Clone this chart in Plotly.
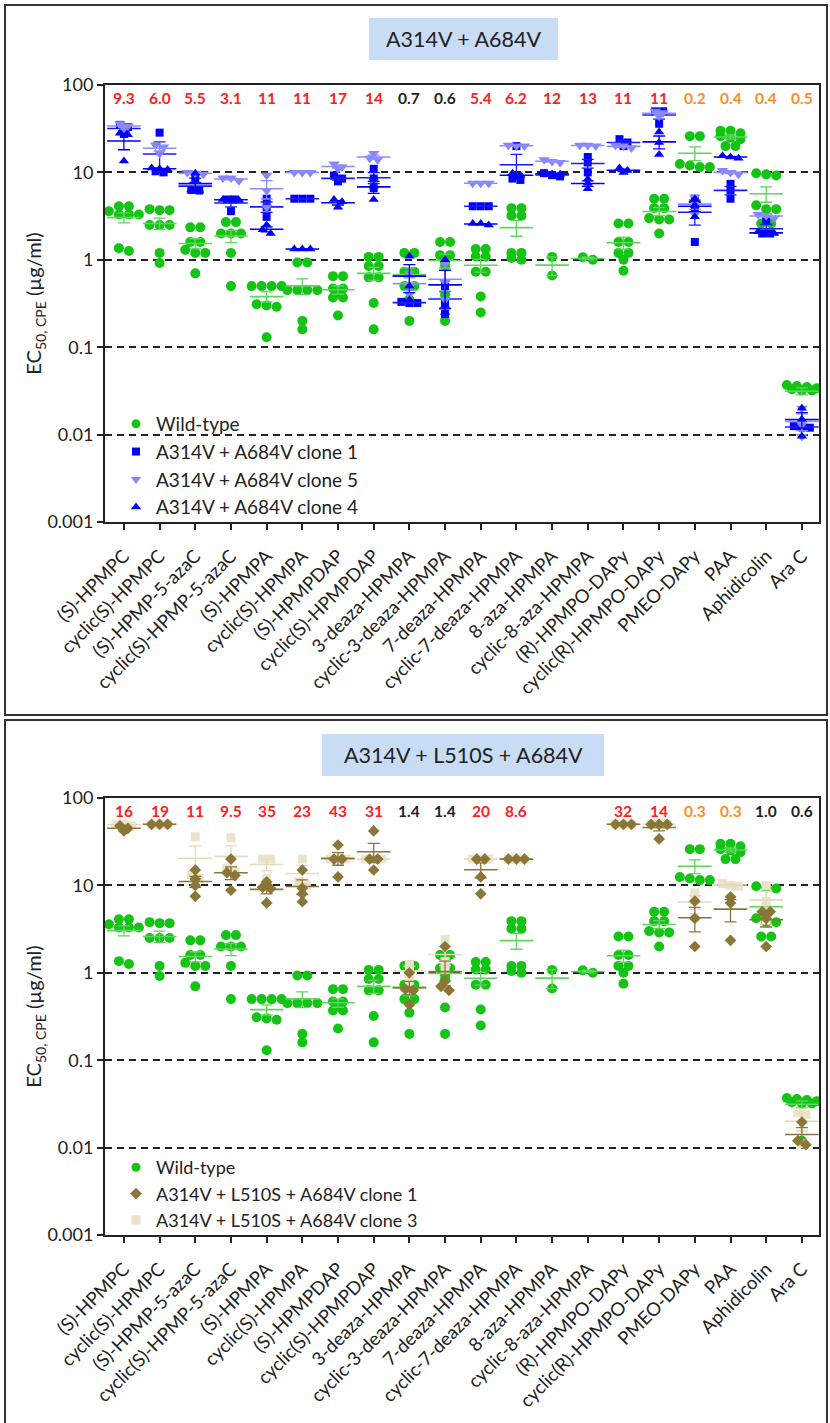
import numpy as np
import plotly.graph_objects as go

# ---------------- data ----------------
compounds = ["(S)-HPMPC", "cyclic(S)-HPMPC", "(S)-HPMP-5-azaC", "cyclic(S)-HPMP-5-azaC",
             "(S)-HPMPA", "cyclic(S)-HPMPA", "(S)-HPMPDAP", "cyclic(S)-HPMPDAP",
             "3-deaza-HPMPA", "cyclic-3-deaza-HPMPA", "7-deaza-HPMPA", "cyclic-7-deaza-HPMPA",
             "8-aza-HPMPA", "cyclic-8-aza-HPMPA", "(R)-HPMPO-DAPy", "cyclic(R)-HPMPO-DAPy",
             "PMEO-DAPy", "PAA", "Aphidicolin", "Ara C"]

wild_type = [
    [4.1, 4.1, 3.6, 3.3, 3.3, 3.3, 1.26, 1.36],
    [3.8, 3.7, 3.7, 2.5, 2.5, 2.5, 1.2, 0.92],
    [2.35, 2.35, 1.6, 1.6, 1.3, 1.2, 1.2, 0.7],
    [2.7, 2.7, 2.0, 2.0, 2.0, 1.2, 0.5],
    [0.5, 0.5, 0.5, 0.5, 0.3, 0.29, 0.31, 0.13],
    [0.93, 0.93, 0.45, 0.45, 0.45, 0.45, 0.16, 0.2],
    [0.65, 0.65, 0.47, 0.47, 0.42, 0.37, 0.37, 0.23],
    [1.08, 1.08, 0.85, 0.85, 0.63, 0.63, 0.32, 0.16],
    [1.2, 1.2, 0.73, 0.73, 0.5, 0.5, 0.35, 0.2],
    [1.6, 1.6, 1.13, 1.13, 0.95, 0.85, 0.4, 0.2],
    [1.33, 1.33, 1.09, 1.09, 0.73, 0.73, 0.38, 0.25],
    [3.9, 3.9, 3.2, 3.2, 1.2, 1.2, 1.05, 1.0],
    [1.08, 0.66],
    [1.0, 1.07],
    [2.6, 2.6, 1.6, 1.6, 1.2, 1.2, 1.0, 0.75],
    [5.0, 5.0, 3.9, 3.9, 3.0, 2.9, 2.9, 2.0],
    [26, 26, 12.5, 12, 11.5, 11.5],
    [30, 30, 28, 26, 25, 24, 20, 20],
    [9.8, 9.5, 9.2, 4.2, 3.8, 3.8, 2.6, 2.6],
    [0.037, 0.036, 0.035, 0.034, 0.033, 0.032, 0.032, 0.012],
]

dm_clone1 = [[35, 33, 27.5], [28.5, 10.3, 10], [8.4, 6.3, 6.2], [4.9, 4.9, 3.6], [5.0, 3.1, 4.0],
             [5, 5, 5], [7.9, 9.2, 8.5], [11, 6.6, 8.5], [0.32, 0.32, 0.33], [0.5, 0.24, 0.33],
             [4.1, 4.1, 4.1], [20, 8.2, 8.5], [9.0, 9.8, 9.3], [15, 10, 13], [24, 20, 22],
             [50, 50, 36], [3.9, 1.6, 5.0], [7.4, 5.0, 6.3], [2.0, 2.0, 2.8], [0.0125, 0.0122, 0.012]]
dm_clone5 = [[36, 34, 32], [20.6, 16.5, 19.5], [10, 9.8, 9.5], [8.6, 8.6, 8.0], [9.3, 6.2, 4.0],
             [10, 10, 10], [12.5, 11.5, 11], [16.5, 14.5, 14], [0.7, 0.5, 0.4], [0.9, 0.55, 0.35],
             [7.5, 7.5, 7.5], [20, 20, 20.5], [14, 13.3, 13], [20.5, 20.5, 20], [20.5, 20, 19],
             [50, 48, 44], [5.2, 3.3, 4.5], [10.5, 10, 9.5], [3.3, 3.2, 3.0], [0.02, 0.013, 0.0095]]
dm_clone4 = [[13.5, 27, 28], [11.2, 10.8, 11], [9.8, 6.2, 6.3], [4.9, 4.9, 4.8], [2.5, 2.0, 2.2],
             [1.33, 1.33, 1.33], [4.9, 4.0, 4.6], [4.9, 8.6, 7.0], [1.1, 0.35, 0.5], [0.25, 1.0, 0.3],
             [2.5, 2.6, 2.6], [9.8, 8.7, 9.3], [9.8, 9.5, 9.6], [8.4, 6.5, 7.5], [11.2, 10, 10.5],
             [29, 16, 22], [5.0, 3.1, 4.2], [15, 15.5, 14.5], [2.0, 2.0, 2.1], [0.02, 0.0096, 0.015]]

tm_clone1 = [[48, 45, 42], [50, 50, 50], [15, 11.8, 10, 7.5], [20, 14, 13, 8.8], [11, 9.5, 9.2, 6.3],
             [15, 9.3, 8.0, 6.5], [29, 20, 20, 12.5], [42, 20, 20, 15], [0.43, 0.63, 0.65, 1.0],
             [2.0, 0.8, 0.7, 0.63], [20, 20, 12.5, 8.0], [20, 20, 20], [], [], [50, 50, 50],
             [50, 50, 50, 34], [6.6, 4.2, 2.0], [7.4, 6.3, 2.35], [5.0, 5.0, 4.2, 2.0],
             [0.0196, 0.012, 0.0108]]
tm_clone3 = [[50, 50, 48], [50, 50, 50], [36, 13.3, 12], [35, 15.5, 14], [20, 20, 12], [20, 11, 10],
             [20, 20, 20], [20, 20, 20], [1.25, 1.1, 0.8], [2.4, 1.35, 1.1], [20, 20, 20], [20, 20, 20],
             [], [], [50, 50, 50], [50, 50, 50], [8.2, 6.9, 4.3], [10.5, 10, 9.8], [10, 6.5, 4.0],
             [0.025, 0.011, 0.024]]

fold_dm = ["9.3", "6.0", "5.5", "3.1", "11", "11", "17", "14", "0.7", "0.6",
           "5.4", "6.2", "12", "13", "11", "11", "0.2", "0.4", "0.4", "0.5"]
fold_tm = ["16", "19", "11", "9.5", "35", "23", "43", "31", "1.4", "1.4",
           "20", "8.6", "", "", "32", "14", "0.3", "0.3", "1.0", "0.6"]

y_tick_vals = [0.001, 0.01, 0.1, 1, 10, 100]
y_tick_text = ["0.001", "0.01", "0.1", "1", "10", "100"]
y_title = "EC<sub>50, CPE</sub> (µg/ml)"

# ---------------- layout geometry ----------------
W, H = 830, 1423
FONT = "Lato, Carlito, Calibri, sans-serif"
TXT = "#222222"
PLOT_L, PLOT_R = 105, 819
PANELS = [dict(top=85, bot=522), dict(top=798, bot=1235)]
XR = [-0.53, 19.48]
PX_PER_CAT = (PLOT_R - PLOT_L) / (XR[1] - XR[0])
PX_PER_DEC = (PANELS[0]["bot"] - PANELS[0]["top"]) / 5.0


def px_x(p):
    return p / W


def px_y(p):
    return 1 - p / H


def swarm(vals, spacing_px, row_px=4.0):
    vals = np.asarray(vals, float)
    order = np.argsort(-vals)
    ypx = np.log10(vals) * PX_PER_DEC
    offs = np.zeros(len(vals))
    rows = []
    for i in order:
        if rows and abs(ypx[rows[-1][0]] - ypx[i]) <= row_px:
            rows[-1].append(i)
        else:
            rows.append([i])
    for r in rows:
        n = len(r)
        for k, i in enumerate(r):
            offs[i] = (k - (n - 1) / 2) * spacing_px / PX_PER_CAT
    return offs


fig = go.Figure()

series_p1 = [
    dict(name="Wild-type", data=wild_type, symbol="circle", size=10, color="#14c414",
         mcolor="#5cd65c", sp=10),
    dict(name="A314V + A684V clone 1", data=dm_clone1, symbol="square", size=8, color="#0000ff",
         mcolor="#1a1aff", sp=8),
    dict(name="A314V + A684V clone 5", data=dm_clone5, symbol="triangle-down", size=10,
         color="#8585ff", mcolor="#8c8cff", sp=8),
    dict(name="A314V + A684V clone 4", data=dm_clone4, symbol="triangle-up", size=9,
         color="#0000ff", mcolor="#0000ff", sp=8),
]
series_p2 = [
    dict(name="Wild-type", data=wild_type, symbol="circle", size=10, color="#14c414",
         mcolor="#5cd65c", sp=10),
    dict(name="A314V + L510S + A684V clone 1", data=tm_clone1, symbol="diamond", size=9,
         color="#8b7637", mcolor="#8b7637", sp=8),
    dict(name="A314V + L510S + A684V clone 3", data=tm_clone3, symbol="square", size=9,
         color="#ebe4cb", mcolor="#e3dbbd", sp=8),
]

for pi, (series, xa, ya, leg) in enumerate([(series_p1, "x", "y", "legend"),
                                              (series_p2, "x2", "y2", "legend2")]):
    draw_order = series if pi == 0 else [series[0], series[2], series[1]]
    for s in draw_order:
        xs, ys = [], []
        mx, my, me = [], [], []
        for c, vals in enumerate(s["data"]):
            if len(vals) == 0:
                continue
            offs = swarm(vals, s["sp"])
            xs.extend(list(c + offs))
            ys.extend(vals)
            v = np.asarray(vals, float)
            mx.append(c)
            my.append(v.mean())
            me.append(v.std(ddof=1) / np.sqrt(len(v)) if len(v) > 1 else 0.0)
        fig.add_trace(go.Scatter(
            x=xs, y=ys, mode="markers", name=s["name"], xaxis=xa, yaxis=ya, legend=leg,
            marker=dict(symbol=s["symbol"], size=s["size"], color=s["color"], line=dict(width=0)),
            showlegend=False))
        fig.add_trace(go.Scatter(
            x=mx, y=my, mode="markers", xaxis=xa, yaxis=ya, showlegend=False, hoverinfo="skip",
            marker=dict(symbol="line-ew", size=24, color=s["mcolor"],
                        line=dict(width=1.6, color=s["mcolor"])),
            error_y=dict(type="data", array=me, visible=True, color=s["mcolor"],
                         thickness=1.3, width=6)))
    for s in series:
        fig.add_trace(go.Scatter(
            x=[None], y=[None], mode="markers", name=s["name"], xaxis=xa, yaxis=ya, legend=leg,
            marker=dict(symbol=s["symbol"], size=min(s["size"], 9), color=s["color"])))

axis_common = dict(showline=True, linecolor=TXT, linewidth=2, mirror=True, ticks="outside",
                   ticklen=6, tickwidth=2, tickcolor=TXT, zeroline=False, automargin=False)
for pi, p in enumerate(PANELS):
    sfx = "" if pi == 0 else str(pi + 1)
    ydom = [px_y(p["bot"]), px_y(p["top"])]
    fig.update_layout(**{
        "xaxis" + sfx: dict(axis_common, domain=[px_x(PLOT_L), px_x(PLOT_R)], range=XR,
                            tickmode="array", tickvals=list(range(len(compounds))),
                            ticktext=compounds, tickangle=-45, showgrid=False,
                            anchor="y" + sfx, ticklabelstandoff=8,
                            tickfont=dict(family=FONT, size=18.5, color=TXT)),
        "yaxis" + sfx: dict(axis_common, domain=ydom, type="log", range=[-3, 2],
                            tickmode="array", tickvals=y_tick_vals, ticktext=y_tick_text,
                            showgrid=True, gridcolor=TXT, gridwidth=1.8, griddash="7px,5px",
                            anchor="x" + sfx,
                            title=dict(text=y_title, standoff=0,
                                       font=dict(family=FONT, size=20, color=TXT)),
                            tickfont=dict(family=FONT, size=18, color=TXT)),
    })

annotations = []
shapes = []
for pi, (folds, ya, xa) in enumerate([(fold_dm, "y", "x"), (fold_tm, "y2", "x2")]):
    for c, t in enumerate(folds):
        if not t:
            continue
        v = float(t)
        col = "#ff2020" if v >= 3 else ("#222222" if v > 0.5 else "#ff8c26")
        annotations.append(dict(x=c, y=1.85, xref=xa, yref=ya, text="<b>%s</b>" % t,
                                xanchor="center", yanchor="middle",
                                showarrow=False, font=dict(family=FONT, size=15.5, color=col)))

shapes.append(dict(type="rect", xref="paper", yref="paper", x0=px_x(5), x1=px_x(827),
                   y0=px_y(715), y1=px_y(5), line=dict(color="#333333", width=2)))
shapes.append(dict(type="rect", xref="paper", yref="paper", x0=px_x(5), x1=px_x(827),
                   y0=px_y(1430), y1=px_y(720), line=dict(color="#333333", width=2)))
shapes.append(dict(type="rect", xref="paper", yref="paper", x0=px_x(369), x1=px_x(558),
                   y0=px_y(60), y1=px_y(18), fillcolor="#c8dcf6", line=dict(width=0),
                   layer="below"))
shapes.append(dict(type="rect", xref="paper", yref="paper", x0=px_x(322), x1=px_x(604),
                   y0=px_y(776), y1=px_y(734), fillcolor="#c8dcf6", line=dict(width=0),
                   layer="below"))
annotations.append(dict(x=px_x(463), y=px_y(39), xref="paper", yref="paper", showarrow=False,
                        xanchor="center", yanchor="middle",
                        text="A314V + A684V", font=dict(family=FONT, size=21.5, color=TXT)))
annotations.append(dict(x=px_x(463), y=px_y(755), xref="paper", yref="paper", showarrow=False,
                        xanchor="center", yanchor="middle",
                        text="A314V + L510S + A684V", font=dict(family=FONT, size=21.5, color=TXT)))

fig.update_layout(
    width=W, height=H, margin=dict(l=0, r=0, t=0, b=0, autoexpand=False),
    paper_bgcolor="white", plot_bgcolor="white",
    annotations=annotations, shapes=shapes,
    legend=dict(x=px_x(116), y=px_y(405), xanchor="left", yanchor="top",
                bgcolor="rgba(0,0,0,0)", font=dict(family=FONT, size=19, color=TXT),
                tracegroupgap=0, itemclick=False),
    legend2=dict(x=px_x(116), y=px_y(1149), xanchor="left", yanchor="top",
                 bgcolor="rgba(0,0,0,0)", font=dict(family=FONT, size=18, color=TXT),
                 tracegroupgap=0, itemclick=False),
)

fig.write_html("out.html")
